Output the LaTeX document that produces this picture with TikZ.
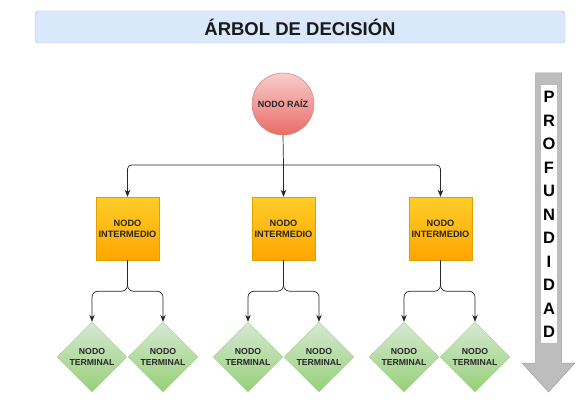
\documentclass[tikz,border=0pt]{standalone}
\usepackage{fontspec}
\setmainfont{Liberation Sans}
\usetikzlibrary{shapes.geometric,arrows.meta}
\definecolor{titlefill}{HTML}{DAE8FC}
\definecolor{titledraw}{HTML}{AFC3DC}
\definecolor{rootA}{HTML}{F8CECC}
\definecolor{rootB}{HTML}{EA6B66}
\definecolor{rootD}{HTML}{D08080}
\definecolor{midA}{HTML}{FFCD28}
\definecolor{midB}{HTML}{FFA500}
\definecolor{midD}{HTML}{E0A000}
\definecolor{termA}{HTML}{D5E8D4}
\definecolor{termB}{HTML}{97D077}
\definecolor{termD}{HTML}{A8D090}
\definecolor{arrowgray}{HTML}{BDBDBD}
\definecolor{arrowdraw}{HTML}{A0A0A0}
\begin{document}
\begin{tikzpicture}[x=1pt,y=-1pt,
  rootnode/.style={circle, minimum size=62pt, inner sep=0pt, draw=rootD, line width=0.5pt,
    top color=rootA, bottom color=rootB, font=\fontsize{9}{10}\selectfont\bfseries, text=black!85},
  midnode/.style={rectangle, minimum width=63pt, minimum height=63pt, inner sep=0pt, draw=midD, line width=0.4pt,
    top color=midA, bottom color=midB, align=center, font=\fontsize{9.2}{11}\selectfont\bfseries, text=black!85},
  termnode/.style={diamond, aspect=1, minimum width=70pt, minimum height=70pt, inner sep=0pt, draw=termD, line width=0.4pt,
    top color=termA, bottom color=termB, align=center, font=\fontsize{8.7}{11}\selectfont\bfseries, text=black!85},
  conn/.style={draw=black!85, line width=0.7pt, -{Stealth[length=7pt,width=5.5pt]}},
]
\useasboundingbox (0,0) rectangle (583,409);
% title
\node[draw=titledraw, fill=titlefill, rounded corners=3pt, minimum width=530pt, minimum height=32pt,
  font=\fontsize{18.5}{20}\selectfont\bfseries, text=black!90] (title) at (300,27) {ÁRBOL DE DECISIÓN};
% root
\node[rootnode] (root) at (283,104) {NODO RAÍZ};
% intermediate
\node[midnode] (i1) at (127.5,228.5) {NODO\\INTERMEDIO};
\node[midnode] (i2) at (283.5,228.5) {NODO\\INTERMEDIO};
\node[midnode] (i3) at (440.5,228.5) {NODO\\INTERMEDIO};
% terminal
\node[termnode] (t1) at (92,357) {NODO\\TERMINAL};
\node[termnode] (t2) at (163,357) {NODO\\TERMINAL};
\node[termnode] (t3) at (248,357) {NODO\\TERMINAL};
\node[termnode] (t4) at (319,357) {NODO\\TERMINAL};
\node[termnode] (t5) at (404,357) {NODO\\TERMINAL};
\node[termnode] (t6) at (475,357) {NODO\\TERMINAL};
% root connectors
\coordinate (j0) at (283.5,165);
\draw[black!85, line width=0.7pt] (root.south) -- (j0);
\draw[conn] (j0) -- (i2.north);
\draw[conn, rounded corners=4pt] (j0) -| (i1.north);
\draw[conn, rounded corners=4pt] (j0) -| (i3.north);
% branches
\foreach \m/\a/\b in {i1/t1/t2, i2/t3/t4, i3/t5/t6}{
  \draw[conn, rounded corners=6pt] (\m.south) -- ++(0,31) -| (\a.north);
  \draw[conn, rounded corners=6pt] (\m.south) -- ++(0,31) -| (\b.north);
}
% depth arrow
\path[fill=arrowgray, draw=arrowdraw, line width=0.5pt]
  (535.5,73) -- (561.5,73) -- (561.5,363) -- (575,363) -- (548.5,392) -- (522,363) -- (535.5,363) -- cycle;
\fill[white] (541,85) rectangle (557,343);
\node[inner sep=0pt, align=center, font=\fontsize{16.5}{23.5}\selectfont\bfseries, text=black] (prof) at (549,214.5)
  {P\\R\\O\\F\\U\\N\\D\\I\\D\\A\\D};
\end{tikzpicture}
\end{document}
